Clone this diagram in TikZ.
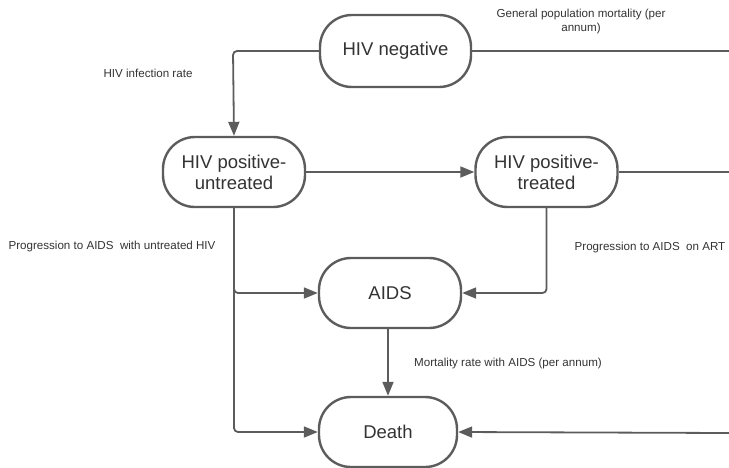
\documentclass[tikz,border=0pt]{standalone}
\usepackage{fontspec}
\setmainfont{Liberation Sans}
\usetikzlibrary{arrows.meta}
\definecolor{ln}{HTML}{5C5C5C}
\definecolor{tx}{HTML}{333333}
\tikzset{
  state/.style={draw=ln, line width=2.4pt, rounded corners=32pt, fill=white,
    minimum height=72pt, text=tx, font=\fontsize{18.5}{21}\selectfont, align=center},
  conn/.style={draw=ln, line width=1.8pt, rounded corners=4pt},
  arr/.style={conn, -{Triangle[length=14pt,width=11pt]}},
  lab/.style={text=tx, font=\fontsize{11.6}{14}\selectfont, align=center, inner sep=0pt}
}
\begin{document}
\begin{tikzpicture}[x=1pt,y=-1pt]
\useasboundingbox (0,0) rectangle (729,467);
\node[state, minimum width=151pt] (neg) at (395.5,51) {HIV negative};
\node[state, minimum width=142pt, minimum height=70pt] (unt) at (234,172) {HIV positive-\\untreated};
\node[state, minimum width=142pt, minimum height=70pt] (trt) at (546.5,172) {HIV positive-\\treated};
\node[state, minimum width=142pt, minimum height=70pt] (aids) at (390,293) {AIDS};
\node[state, minimum width=138pt, minimum height=70pt] (death) at (388,432) {Death};
\coordinate (r1) at (729,51);
\coordinate (r2) at (729,172);
\coordinate (r3) at (729,433);
\coordinate (c1) at (233,51);
\draw[conn] (neg.east) -- (r1);
\draw[conn] (trt.east) -- (r2);
\draw[arr] (r3) -- (death.east);
\draw[arr] (neg.west) -- (c1) -- (unt.north);
\draw[arr] (unt.east) -- (trt.west);
\draw[arr] (unt.south) |- (aids.west);
\draw[arr] (unt.south) |- (death.west);
\draw[arr] (trt.south) |- (aids.east);
\draw[arr] (aids.south -| death.north) -- (death.north);
\node[lab] (l1) at (581,21) {General population mortality (per\\annum)};
\node[lab] (l2) at (148,73) {HIV infection rate};
\node[lab] (l3) at (112,246) {Progression to AIDS\ \ with untreated HIV};
\node[lab] (l4) at (650,247) {Progression to AIDS\ \ on ART};
\node[lab] (l5) at (508,363) {Mortality rate with AIDS (per annum)};
\end{tikzpicture}
\end{document}
